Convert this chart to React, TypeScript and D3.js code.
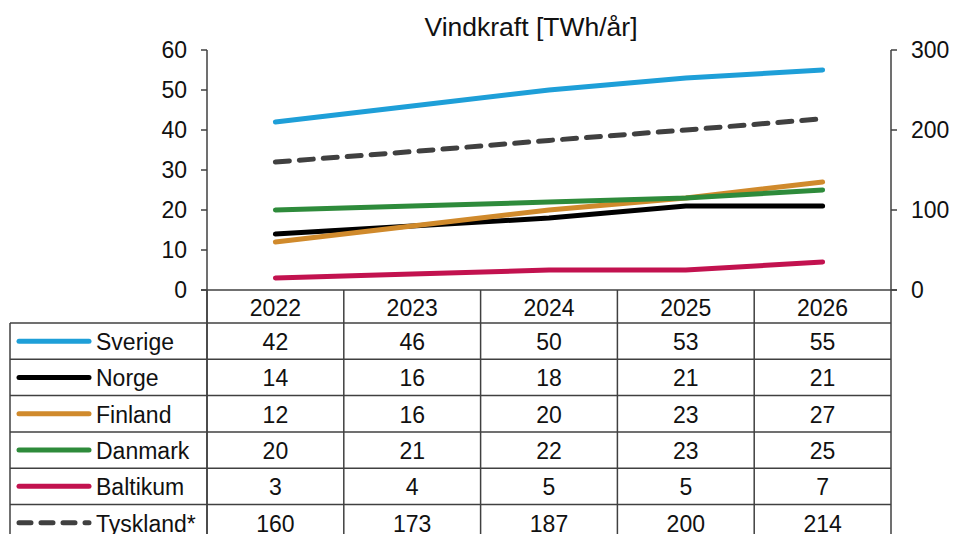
import React from "react";
import * as d3 from "d3";

const years = ["2022", "2023", "2024", "2025", "2026"];
const countries = ["Sverige", "Norge", "Finland", "Danmark", "Baltikum", "Tyskland*"];
const sverige = [42, 46, 50, 53, 55];
const norge = [14, 16, 18, 21, 21];
const finland = [12, 16, 20, 23, 27];
const danmark = [20, 21, 22, 23, 25];
const baltikum = [3, 4, 5, 5, 7];
const tyskland = [160, 173, 187, 200, 214];
const leftTicks = [0, 10, 20, 30, 40, 50, 60];
const rightTicks = [0, 100, 200, 300];

const colors = ["#1e9fd8", "#000000", "#d08a2c", "#2e8b3b", "#c2124f", "#404040"];

export default function App() {
  const width = 953;
  const height = 534;
  const left = 207;
  const right = 891;
  const top = 50;
  const bottom = 290;
  const rowH = 36.3;
  const headTop = bottom;
  const headBottom = 323;
  const font = "'Liberation Sans', Arial, sans-serif";
  const stroke = "#404040";
  const fs = 23;

  const x = d3.scaleBand<string>().domain(years).range([left, right]);
  const yL = d3.scaleLinear().domain([0, 60]).range([bottom, top]);
  const yR = d3.scaleLinear().domain([0, 300]).range([bottom, top]);

  const series = [sverige, norge, finland, danmark, baltikum, tyskland];
  const line = (scale: d3.ScaleLinear<number, number>) =>
    d3
      .line<number>()
      .x((_, i) => (x(years[i]) as number) + x.bandwidth() / 2)
      .y((d) => scale(d));

  const rowTop = (i: number) => headBottom + i * rowH;

  return (
    <svg
      width={width}
      height={height}
      style={{ position: "absolute", left: 0, top: 0, background: "#fff" }}
      fontFamily={font}
    >
      <text x={531} y={36} fontSize={26.5} textAnchor="middle" fill="#111">
        Vindkraft [TWh/år]
      </text>

      {/* left axis */}
      <line x1={left} x2={left} y1={top} y2={height} stroke={stroke} strokeWidth={1.5} />
      {leftTicks.map((t) => (
        <g key={"l" + t}>
          <line x1={left - 6} x2={left} y1={yL(t)} y2={yL(t)} stroke={stroke} strokeWidth={1.5} />
          <text x={187} y={yL(t) + 8} fontSize={fs} textAnchor="end" fill="#111">
            {t}
          </text>
        </g>
      ))}

      {/* right axis */}
      <line x1={right} x2={right} y1={top} y2={height} stroke={stroke} strokeWidth={1.5} />
      {rightTicks.map((t) => (
        <g key={"r" + t}>
          <line x1={right} x2={right + 6} y1={yR(t)} y2={yR(t)} stroke={stroke} strokeWidth={1.5} />
          <text x={911} y={yR(t) + 8} fontSize={fs} textAnchor="start" fill="#111">
            {t}
          </text>
        </g>
      ))}

      {/* x axis / header top */}
      <line x1={left - 6} x2={right + 6} y1={bottom} y2={bottom} stroke={stroke} strokeWidth={1.5} />

      {/* header */}
      {years.map((yr) => (
        <g key={yr}>
          <line
            x1={x(yr) as number}
            x2={x(yr) as number}
            y1={headTop}
            y2={height}
            stroke={stroke}
            strokeWidth={1.5}
          />
          <text
            x={(x(yr) as number) + x.bandwidth() / 2}
            y={headTop + 26}
            fontSize={fs}
            textAnchor="middle"
            fill="#111"
          >
            {yr}
          </text>
        </g>
      ))}

      {/* table rows */}
      <line x1={10} x2={10} y1={headBottom} y2={height} stroke={stroke} strokeWidth={1.5} />
      {countries.map((c, i) => (
        <g key={c}>
          <line x1={10} x2={right} y1={rowTop(i)} y2={rowTop(i)} stroke={stroke} strokeWidth={1.5} />
          <line
            x1={19}
            x2={89}
            y1={rowTop(i) + rowH / 2}
            y2={rowTop(i) + rowH / 2}
            stroke={colors[i]}
            strokeWidth={5}
            strokeLinecap="round"
            strokeDasharray={i === 5 ? "12 10" : undefined}
          />
          <text x={96} y={rowTop(i) + rowH / 2 + 9} fontSize={fs} fill="#111">
            {c}
          </text>
          {series[i].map((v, j) => (
            <text
              key={j}
              x={(x(years[j]) as number) + x.bandwidth() / 2}
              y={rowTop(i) + rowH / 2 + 9}
              fontSize={fs}
              textAnchor="middle"
              fill="#111"
            >
              {v}
            </text>
          ))}
        </g>
      ))}

      {/* lines */}
      {series.map((s, i) => (
        <path
          key={countries[i]}
          d={(i === 5 ? line(yR) : line(yL))(s) || ""}
          fill="none"
          stroke={colors[i]}
          strokeWidth={5}
          strokeLinecap="round"
          strokeDasharray={i === 5 ? "14 10" : undefined}
        />
      ))}
    </svg>
  );
}
